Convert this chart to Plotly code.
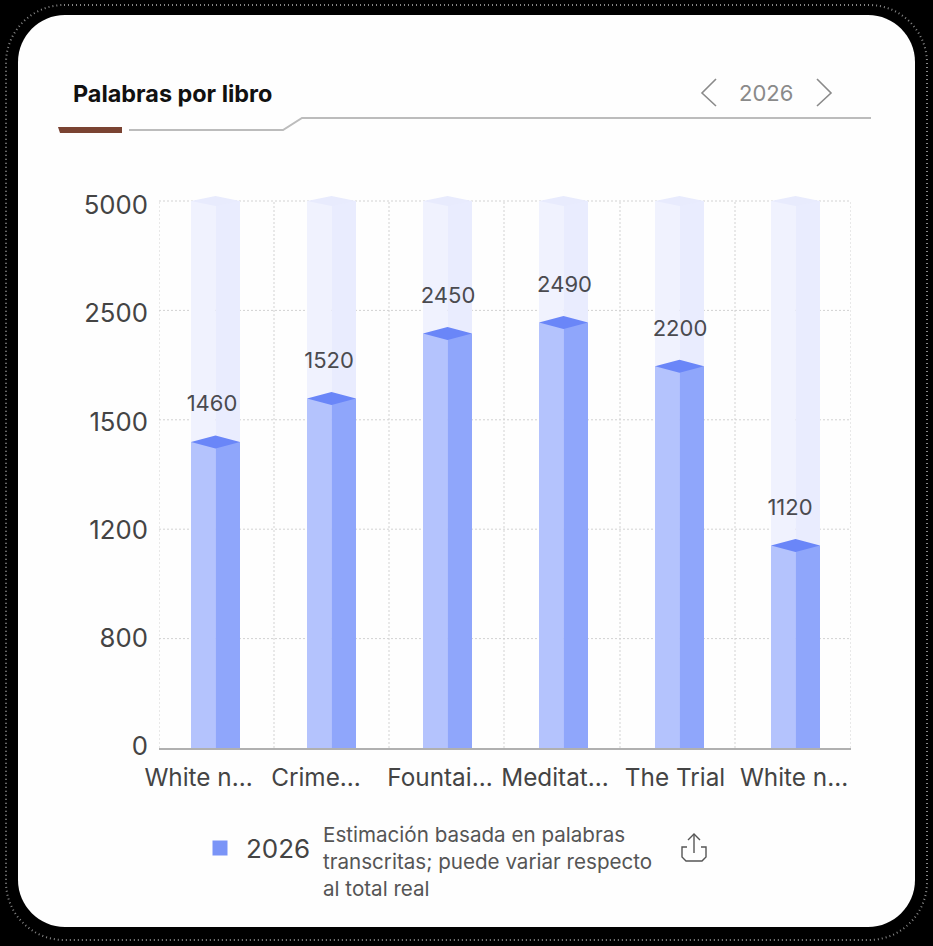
import plotly.graph_objects as go

# ---- data ----
books = ["White n...", "Crime...", "Fountai...", "Meditat...", "The Trial", "White n..."]
word_labels = [1460, 1520, 2450, 2490, 2200, 1120]
# bar tops as read against the (evenly spaced, non-linear) axis; 0-5 = tick steps
bar_levels = [2.797, 3.195, 3.79, 3.89, 3.49, 1.85]
track_level = 5
y_tick_steps = [0, 1, 2, 3, 4, 5]
y_tick_labels = ["0", "800", "1200", "1500", "2500", "5000"]
series_name = "2026"
note = "Estimación basada en palabras<br>transcritas; puede variar respecto<br>al total real"
title = "Palabras por libro"

W, H = 933, 946
PL, PR, PT, PB = 159, 851, 201, 748
X0, STEP = 215.5, 116.0
unit = (PB - PT) / 5
Y_TOP = 5.06
PT_EXT = PB - Y_TOP * unit


def px(x):
    return x / W


def py(y):
    return 1 - y / H


def ax(x):
    return (x - X0) / STEP


def ay(y):
    return (PB - y) / unit


def poly(points, close=False):
    s = "M" + " L".join(f"{px(x):.5f},{py(y):.5f}" for x, y in points)
    return s + (" Z" if close else "")


def rounded(l, t, r, b, rad):
    k = rad * 0.45
    return (
        f"M{px(l+rad):.5f},{py(t):.5f} L{px(r-rad):.5f},{py(t):.5f} "
        f"C{px(r-k):.5f},{py(t):.5f} {px(r):.5f},{py(t+k):.5f} {px(r):.5f},{py(t+rad):.5f} "
        f"L{px(r):.5f},{py(b-rad):.5f} "
        f"C{px(r):.5f},{py(b-k):.5f} {px(r-k):.5f},{py(b):.5f} {px(r-rad):.5f},{py(b):.5f} "
        f"L{px(l+rad):.5f},{py(b):.5f} "
        f"C{px(l+k):.5f},{py(b):.5f} {px(l):.5f},{py(b-k):.5f} {px(l):.5f},{py(b-rad):.5f} "
        f"L{px(l):.5f},{py(t+rad):.5f} "
        f"C{px(l):.5f},{py(t+k):.5f} {px(l+k):.5f},{py(t):.5f} {px(l+rad):.5f},{py(t):.5f} Z"
    )


xs = list(range(len(books)))
half = 24.5 / STEP


def diamonds(levels, hh):
    dx, dy = [], []
    for x, lv in zip(xs, levels):
        d = hh / unit
        dx += [x - half, x, x + half, x, x - half, None]
        dy += [lv, lv + d, lv, lv - d, lv, None]
    return dx, dy


fig = go.Figure()
track = [track_level] * len(xs)
for vals, cl, cr, ct, hh in [
    (track, "#f0f2fe", "#e9ecfe", "#e8ebfd", 5),
    (bar_levels, "#b4c3fd", "#8fa6fb", "#6a86f8", 6.5),
]:
    fig.add_bar(x=xs, y=vals, width=half, offset=-half, marker=dict(color=cl, line_width=0),
                showlegend=False, hoverinfo="skip")
    fig.add_bar(x=xs, y=vals, width=half, offset=0, marker=dict(color=cr, line_width=0),
                showlegend=False, hoverinfo="skip")
    dx, dy = diamonds(vals, hh)
    fig.add_scatter(x=dx, y=dy, mode="lines", fill="toself", fillcolor=ct, line=dict(width=0, color=ct),
                    cliponaxis=False, showlegend=False, hoverinfo="skip")

value_label_centres = [212, 329, 448, 564.5, 680, 790]
fig.add_scatter(x=[ax(c) for c in value_label_centres], y=[v + 36 / unit for v in bar_levels], mode="text",
                text=[str(v) for v in word_labels], textposition="middle center",
                textfont=dict(family="Inter", size=22, color="#4a4a4f"),
                cliponaxis=False, showlegend=False, hoverinfo="skip")
fig.add_scatter(x=[None], y=[None], mode="markers", name=series_name,
                marker=dict(symbol="square", size=15, color="#7a94f7"))

label_centres = [198.5, 316, 440, 555, 675, 794]
y_label_px = [746, 638, 530, 422, 313, 205]
grid = "#d2d2d2"
DOT = "2px,2px"
shapes = [
    dict(type="path", xref="paper", yref="paper", layer="below",
         path=rounded(18, 15, 915, 927, 47), fillcolor="#fefefe", line=dict(width=0)),
    dict(type="path", xref="paper", yref="paper", layer="below",
         path=rounded(6, 5, 927, 940, 58), line=dict(color="rgba(225,225,225,0.6)", width=2, dash="1px,3px")),
    dict(type="path", xref="paper", yref="paper", layer="below",
         path=poly([(58, 127), (122, 127), (122, 133), (60, 133)], True), fillcolor="#7a4332", line=dict(width=0)),
    dict(type="path", xref="paper", yref="paper", layer="below",
         path=poly([(129, 130), (283, 130), (302, 118), (871, 118)]), line=dict(color="#bcbcbc", width=2)),
    dict(type="path", xref="paper", yref="paper",
         path=poly([(716, 79), (702, 93), (716, 106)]), line=dict(color="#8a8a8a", width=1.6)),
    dict(type="path", xref="paper", yref="paper",
         path=poly([(817, 79), (831, 93), (817, 106)]), line=dict(color="#8a8a8a", width=1.6)),
    dict(type="path", xref="paper", yref="paper",
         path=poly([(687, 847), (682, 847), (682, 857), (686, 861), (702, 861), (706, 857), (706, 847), (701, 847)]),
         line=dict(color="#555555", width=1.4)),
    dict(type="path", xref="paper", yref="paper",
         path=poly([(694, 853), (694, 834)]), line=dict(color="#555555", width=1.4)),
    dict(type="path", xref="paper", yref="paper",
         path=poly([(688, 840), (694, 834), (700, 840)]), line=dict(color="#555555", width=1.4)),
]
for v in [159, 274, 389, 504, 620, 735, 851]:
    shapes.append(dict(type="line", xref="x", yref="y", layer="below", x0=ax(v), x1=ax(v), y0=0, y1=5,
                       line=dict(color=grid, width=1, dash=DOT)))
for s in y_tick_steps[1:]:
    shapes.append(dict(type="line", xref="x", yref="y", layer="below", x0=ax(PL), x1=ax(PR), y0=s, y1=s,
                       line=dict(color=grid, width=1, dash=DOT)))

annotations = [
    dict(x=px(71), y=py(93), xref="paper", yref="paper", text=f"<b>{title}</b>", showarrow=False,
         xanchor="left", yanchor="middle", font=dict(family="Inter", size=23.4, color="#111111")),
    dict(x=px(765.5), y=py(93), xref="paper", yref="paper", text=series_name, showarrow=False,
         xanchor="center", yanchor="middle", font=dict(family="Inter", size=22, color="#8a8a8a")),
    dict(x=px(321), y=py(861), xref="paper", yref="paper", text=note, showarrow=False, align="left",
         xanchor="left", yanchor="middle", font=dict(family="Inter", size=20.6, color="#555555")),
]

fig.update_layout(
    width=W, height=H, margin=dict(l=0, r=0, t=0, b=0, autoexpand=False), autosize=False,
    paper_bgcolor="#000000", plot_bgcolor="rgba(0,0,0,0)", barmode="overlay",
    shapes=shapes, annotations=annotations,
    showlegend=True,
    legend=dict(x=px(194), y=py(848), xanchor="left", yanchor="middle", bgcolor="rgba(0,0,0,0)",
                itemwidth=42, font=dict(family="Inter", size=26, color="#444444")),
    xaxis=dict(domain=[px(PL), px(PR)], range=[ax(PL), ax(PR)], tickmode="array",
               tickvals=[ax(c) for c in label_centres], ticktext=books, ticks="outside", ticklen=7,
               tickcolor="rgba(0,0,0,0)",
               tickfont=dict(family="Inter", size=24.3, color="#444444"),
               showgrid=False, zeroline=False, showline=True, linecolor="#b0b0b0", linewidth=2),
    yaxis=dict(domain=[py(PB), py(PT_EXT)], range=[0, Y_TOP], tickmode="array",
               tickvals=[ay(v) for v in y_label_px],
               ticktext=y_tick_labels, tickfont=dict(family="Inter", size=25.7, color="#444444"),
               ticks="outside", ticklen=5, tickcolor="rgba(0,0,0,0)",
               showgrid=False, zeroline=False, showline=False),
)

fig.write_html("out.html", config=dict(displayModeBar=False),
               post_script="document.body.style.margin='0';document.body.style.overflow='hidden';document.body.style.background='#000';")
